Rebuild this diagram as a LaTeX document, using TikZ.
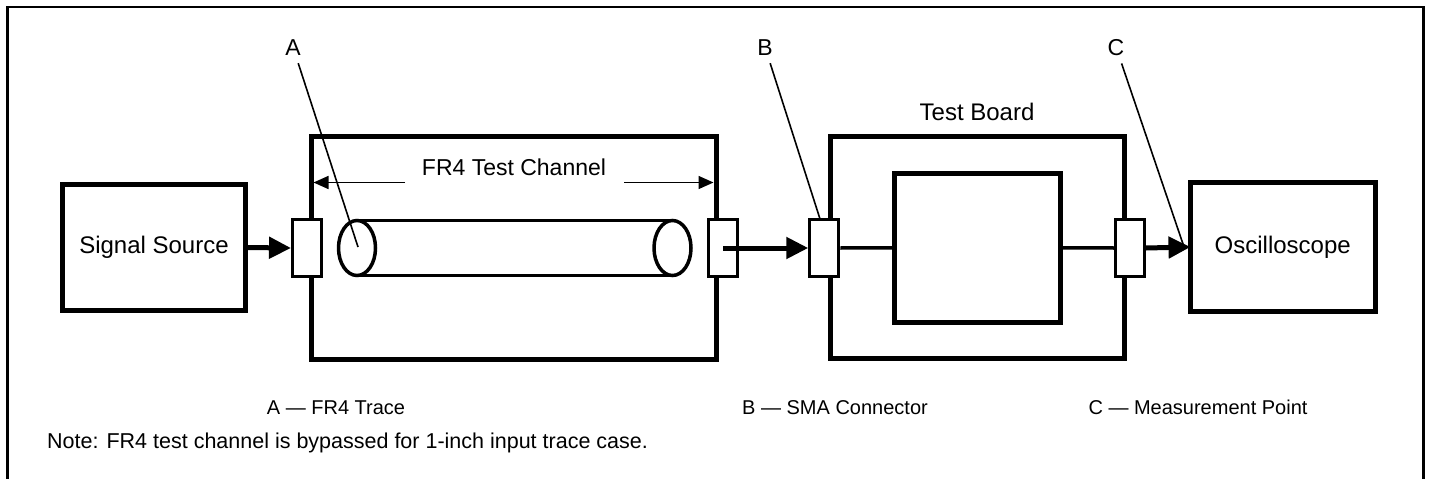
\documentclass[tikz,border=0pt]{standalone}
\usepackage{fontspec}
\setmainfont{Liberation Sans}
\usetikzlibrary{arrows.meta,shapes.geometric,calc}
\begin{document}
\begin{tikzpicture}[x=1pt,y=-1pt,
  box/.style={draw, line width=5pt, inner sep=0pt, outer sep=0pt},
  conn/.style={draw, fill=white, line width=3pt, minimum width=29pt, minimum height=57pt, inner sep=0pt, outer sep=1.5pt},
  cyl/.style={draw, ellipse, line width=3.5pt, inner sep=0pt, outer sep=0pt, minimum width=37pt, minimum height=55pt},
  bigtxt/.style={font=\fontsize{24}{28}\selectfont},
  leadlab/.style={font=\fontsize{23}{26}\selectfont, inner sep=8pt, anchor=base},
  leader/.style={line width=1.6pt},
  sig/.style={line width=5pt, -{Triangle[length=22pt, width=21pt]}},
  wire/.style={line width=3.5pt},
  dimarrow/.style={line width=1.5pt, -{Triangle[length=15pt, width=13pt]}},
  legend/.style={font=\fontsize{20}{23}\selectfont, inner sep=0pt, anchor=base},
]
\useasboundingbox (0,0) rectangle (1429,479);
% frame
\coordinate (fbl) at (7.5,479);
\coordinate (ftl) at (7.5,7);
\coordinate (ftr) at (1423.5,7);
\coordinate (fbr) at (1423.5,479);
\draw[line width=2.5pt] (fbl) -- (ftl) -- (ftr) -- (fbr);

% main boxes
\node[box, minimum width=183pt, minimum height=126pt, bigtxt] (src) at (154,247.5) {Signal Source};
\node[box, minimum width=405pt, minimum height=223pt] (fr4) at (513.5,247.5) {};
\node[box, minimum width=294.5pt, minimum height=221.5pt] (tb) at (977.25,247.25) {};
\node[box, minimum width=165.5pt, minimum height=148.5pt] (dut) at (977.25,247.75) {};
\node[box, minimum width=184.5pt, minimum height=129pt, bigtxt] (osc) at (1282.75,247) {Oscilloscope};

% connectors
\node[conn] (c1) at (307,248) {};
\node[conn] (c2) at (723,248) {};
\node[conn] (cB) at (824.25,248) {};
\node[conn] (cC) at (1130,248) {};

% cylinder (FR4 trace)
\node[cyl] (el) at (357,248) {};
\node[cyl] (er) at (672.5,248) {};
\draw[line width=3.5pt] (el.north) -- (er.north);
\draw[line width=3.5pt] (el.south) -- (er.south);

% dimension
\node[font=\fontsize{23}{26}\selectfont] (dimtxt) at (514,167) {FR4 Test Channel};
\coordinate (dimL) at (405,182.5);
\coordinate (dimR) at (624,182.5);
\draw[dimarrow] (dimL) -- ($(fr4.west |- dimL)+(2.5,0)$);
\draw[dimarrow] (dimR) -- ($(fr4.east |- dimR)+(-2.5,0)$);

% test board label
\node[bigtxt] (tbtxt) at (977,112) {Test Board};

% signal path
\draw[sig] (src.east) -- (c1.west);
\draw[sig] (c2.center) -- (cB.west);
\draw[wire] (cB.east) -- (dut.west);
\draw[wire] (dut.east) -- (cC.west);
\draw[sig] (cC.east) -- (osc.west);

% leaders
\node[leadlab] (lA) at (293,55) {A};
\node[leadlab] (lB) at (765,55) {B};
\node[leadlab] (lC) at (1116,55) {C};
\coordinate (tA) at (358,247);
\coordinate (tB) at (820,219);
\coordinate (tC) at (1183,244);
\draw[leader] (lA) -- (tA);
\draw[leader] (lB) -- (tB);
\draw[leader] (lC) -- (tC);

% legend
\node[legend] (legA) at (336,414) {A — FR4 Trace};
\node[legend] (legB) at (835,414) {B — SMA Connector};
\node[legend] (legC) at (1198,414) {C — Measurement Point};
\node[anchor=base west, inner sep=0pt, font=\fontsize{21.5}{25}\selectfont] (note) at (47,448) {Note: FR4 test channel is bypassed for 1-inch input trace case.};
\end{tikzpicture}
\end{document}
